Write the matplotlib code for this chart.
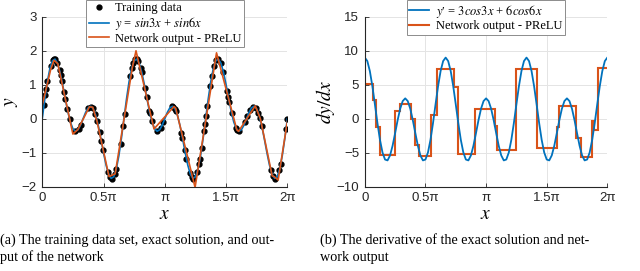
import numpy as np
import matplotlib
matplotlib.use("Agg")
import matplotlib.pyplot as plt

plt.rcParams["mathtext.fontset"] = "stix"

# ---------------- data (x given in units of pi) ----------------
# exact solution y = sin3x + sin6x, read at steps of pi/48 from 0 to 2pi
y_exact = [0.000, 0.578, 1.090, 1.479, 1.707, 1.755, 1.631, 1.363, 1.000, 0.598, 0.217, -0.092,
           -0.293, -0.368, -0.324, -0.188, 0.000, 0.188, 0.324, 0.368, 0.293, 0.092, -0.217, -0.598,
           -1.000, -1.363, -1.631, -1.755, -1.707, -1.479, -1.090, -0.578,
           0.000, 0.578, 1.090, 1.479, 1.707, 1.755, 1.631, 1.363, 1.000, 0.598, 0.217, -0.092,
           -0.293, -0.368, -0.324, -0.188, 0.000, 0.188, 0.324, 0.368, 0.293, 0.092, -0.217, -0.598,
           -1.000, -1.363, -1.631, -1.755, -1.707, -1.479, -1.090, -0.578,
           0.000, 0.578, 1.090, 1.479, 1.707, 1.755, 1.631, 1.363, 1.000, 0.598, 0.217, -0.092,
           -0.293, -0.368, -0.324, -0.188, 0.000, 0.188, 0.324, 0.368, 0.293, 0.092, -0.217, -0.598,
           -1.000, -1.363, -1.631, -1.755, -1.707, -1.479, -1.090, -0.578, 0.000]

# exact derivative y' = 3cos3x + 6cos6x, same sampling
dy_exact = [9.000, 8.486, 7.014, 4.790, 2.121, -0.630, -3.095, -4.957, -6.000, -6.128, -5.391, -3.963,
            -2.121, -0.199, 1.471, 2.601, 3.000, 2.601, 1.471, -0.199, -2.121, -3.963, -5.391, -6.128,
            -6.000, -4.957, -3.095, -0.630, 2.121, 4.790, 7.014, 8.486,
            9.000, 8.486, 7.014, 4.790, 2.121, -0.630, -3.095, -4.957, -6.000, -6.128, -5.391, -3.963,
            -2.121, -0.199, 1.471, 2.601, 3.000, 2.601, 1.471, -0.199, -2.121, -3.963, -5.391, -6.128,
            -6.000, -4.957, -3.095, -0.630, 2.121, 4.790, 7.014, 8.486,
            9.000, 8.486, 7.014, 4.790, 2.121, -0.630, -3.095, -4.957, -6.000, -6.128, -5.391, -3.963,
            -2.121, -0.199, 1.471, 2.601, 3.000, 2.601, 1.471, -0.199, -2.121, -3.963, -5.391, -6.128,
            -6.000, -4.957, -3.095, -0.630, 2.121, 4.790, 7.014, 8.486, 9.000]

# training data
train_x = [0.014, 0.025, 0.033, 0.042, 0.068, 0.087, 0.097, 0.106, 0.123, 0.142, 0.150, 0.161,
           0.177, 0.188, 0.204, 0.223, 0.264, 0.297, 0.313, 0.373, 0.395, 0.414, 0.433, 0.449,
           0.468, 0.482, 0.495, 0.536, 0.550, 0.569, 0.591, 0.605, 0.640, 0.659, 0.672, 0.716,
           0.730, 0.743, 0.757, 0.770, 0.784, 0.803, 0.811, 0.838, 0.852, 0.874, 0.879, 0.893,
           0.940, 0.970, 0.988, 1.056, 1.070, 1.083, 1.091, 1.136, 1.144, 1.163, 1.177, 1.204,
           1.218, 1.232, 1.265, 1.280, 1.288, 1.301, 1.320, 1.328, 1.336, 1.347, 1.369, 1.383,
           1.402, 1.418, 1.437, 1.456, 1.478, 1.510, 1.518, 1.526, 1.545, 1.581, 1.592, 1.608,
           1.655, 1.674, 1.696, 1.723, 1.745, 1.764, 1.777, 1.791, 1.864, 1.881, 1.900, 1.935,
           1.946, 1.989, 2.000]
train_y = [0.39, 0.69, 0.89, 1.11, 1.56, 1.73, 1.76, 1.75, 1.64, 1.43, 1.30, 1.11,
           0.80, 0.59, 0.28, -0.01, -0.36, -0.30, -0.18, 0.32, 0.36, 0.31, 0.15, -0.06,
           -0.39, -0.65, -0.91, -1.57, -1.70, -1.76, -1.64, -1.47, -0.73, -0.22, 0.15, 1.25,
           1.49, 1.65, 1.75, 1.76, 1.69, 1.50, 1.39, 0.91, 0.65, 0.24, 0.17, -0.06,
           -0.37, -0.26, -0.11, 0.37, 0.36, 0.30, 0.24, -0.41, -0.56, -0.93, -1.19, -1.59,
           -1.71, -1.76, -1.56, -1.33, -1.17, -0.87, -0.37, -0.15, 0.08, 0.38, 0.95, 1.26,
           1.56, 1.72, 1.76, 1.65, 1.38, 0.81, 0.65, 0.50, 0.18, -0.27, -0.34, -0.37,
           -0.11, 0.07, 0.25, 0.36, 0.32, 0.17, 0.01, -0.20, -1.50, -1.69, -1.76, -1.51,
           -1.34, -0.31, 0.00]

# network output (PReLU), piecewise linear
net_x = [0.0, 0.069, 0.096, 0.127, 0.250, 0.290, 0.385, 0.412, 0.447, 0.545, 0.595, 0.735,
         0.765, 0.912, 1.075, 1.089, 1.247, 1.422, 1.588, 1.602, 1.738, 1.780, 1.876, 1.891,
         1.925, 2.0]
net_y = [0.40, 1.45, 1.72, 1.62, -0.45, -0.32, 0.35, 0.34, -0.08, -1.70, -1.62, 1.50,
         2.00, -0.30, 0.36, 0.31, -2.02, 1.94, -0.33, -0.37, 0.38, 0.00, -1.68, -1.70,
         -1.80, -0.08]

# derivative of the network output: piecewise constant
step_vals = [5.05, 2.75, -1.27, -5.4, 1.18, 2.24, -0.05, -3.8, -5.45, 0.5, 7.26, 4.68,
             -5.2, 1.37, -1.08, -4.65, 7.26, -4.27, -1.17, 1.9, -2.9, -5.65, -0.4, -1.7, 7.48]

xticks = [0, 0.5, 1, 1.5, 2]
xtick_labels = ["0", "0.5π", "π", "1.5π", "2π"]

blue = "#0072BD"
orange = "#D95319"
dark = "#262626"

fig = plt.figure(figsize=(6.4, 2.71), dpi=100)
ax1 = fig.add_axes([0.066, 0.311, 0.383, 0.627])
ax2 = fig.add_axes([0.570, 0.311, 0.379, 0.627])

x_grid = np.linspace(0, 2 * np.pi, len(y_exact))

# ---- left: data, exact, network ----
ax1.plot(np.array(train_x) * np.pi, train_y, "o", color="black", ms=3.5, label="Training data")
ax1.plot(x_grid, y_exact, color=blue, lw=1.2, label=r"$y$ = $\mathit{sin3x}$ + $\mathit{sin6x}$")
ax1.plot(np.array(net_x) * np.pi, net_y, color=orange, lw=1.2, label="Network output - PReLU")
ax1.set_ylim(-2, 3)
ax1.set_yticks([-2, -1, 0, 1, 2, 3])
ax1.set_ylabel(r"$y$", fontsize=14, labelpad=1)

# ---- right: derivatives ----
ax2.plot(x_grid, dy_exact, color=blue, lw=1.3,
         label="$y$\u2032 = $\\mathit{3cos3x}$ + $\\mathit{6cos6x}$")
ax2.stairs(step_vals, np.array(net_x) * np.pi, baseline=None, color=orange, lw=1.5,
           label="Network output - PReLU")
ax2.set_ylim(-10, 15)
ax2.set_yticks([-10, -5, 0, 5, 10, 15])
ax2.set_ylabel(r"$dy/dx$", fontsize=14, labelpad=0)

for ax in (ax1, ax2):
    ax.set_xlim(0, 2 * np.pi)
    ax.set_xticks(np.array(xticks) * np.pi)
    ax.set_xticklabels(xtick_labels)
    ax.set_xlabel(r"$x$", fontsize=14, labelpad=0)
    ax.grid(True, color="#e4e4e4", lw=0.7)
    ax.set_axisbelow(True)
    for s in ("top", "right"):
        ax.spines[s].set_visible(False)
    for s in ("left", "bottom"):
        ax.spines[s].set_color(dark)
        ax.spines[s].set_linewidth(0.8)
    ax.tick_params(direction="in", length=3, width=0.6, colors=dark, labelsize=9.5, pad=4)
    for lab in ax.get_xticklabels() + ax.get_yticklabels():
        lab.set_family("Liberation Sans")

leg_kw = dict(loc="upper center", bbox_transform=fig.transFigure, fancybox=False,
              framealpha=1, edgecolor="#8c8c8c", borderpad=0.2, labelspacing=0.05,
              handlelength=1.6, handletextpad=0.5, borderaxespad=0,
              prop={"family": "Liberation Serif", "size": 9})
l1 = ax1.legend(bbox_to_anchor=(0.258, 1.0), **leg_kw)
l2 = ax2.legend(bbox_to_anchor=(0.759, 1.0), **leg_kw)
for l in (l1, l2):
    l.get_frame().set_linewidth(0.7)

cap = {"family": "Liberation Serif", "size": 10.2, "va": "center"}
fig.text(0.0, 0.115, "(a) The training data set, exact solution, and out-", **cap)
fig.text(0.0, 0.05, "put of the network", **cap)
fig.text(0.5, 0.115, "(b) The derivative of the exact solution and net-", **cap)
fig.text(0.5, 0.05, "work output", **cap)

fig.savefig("out.png", dpi=100)
